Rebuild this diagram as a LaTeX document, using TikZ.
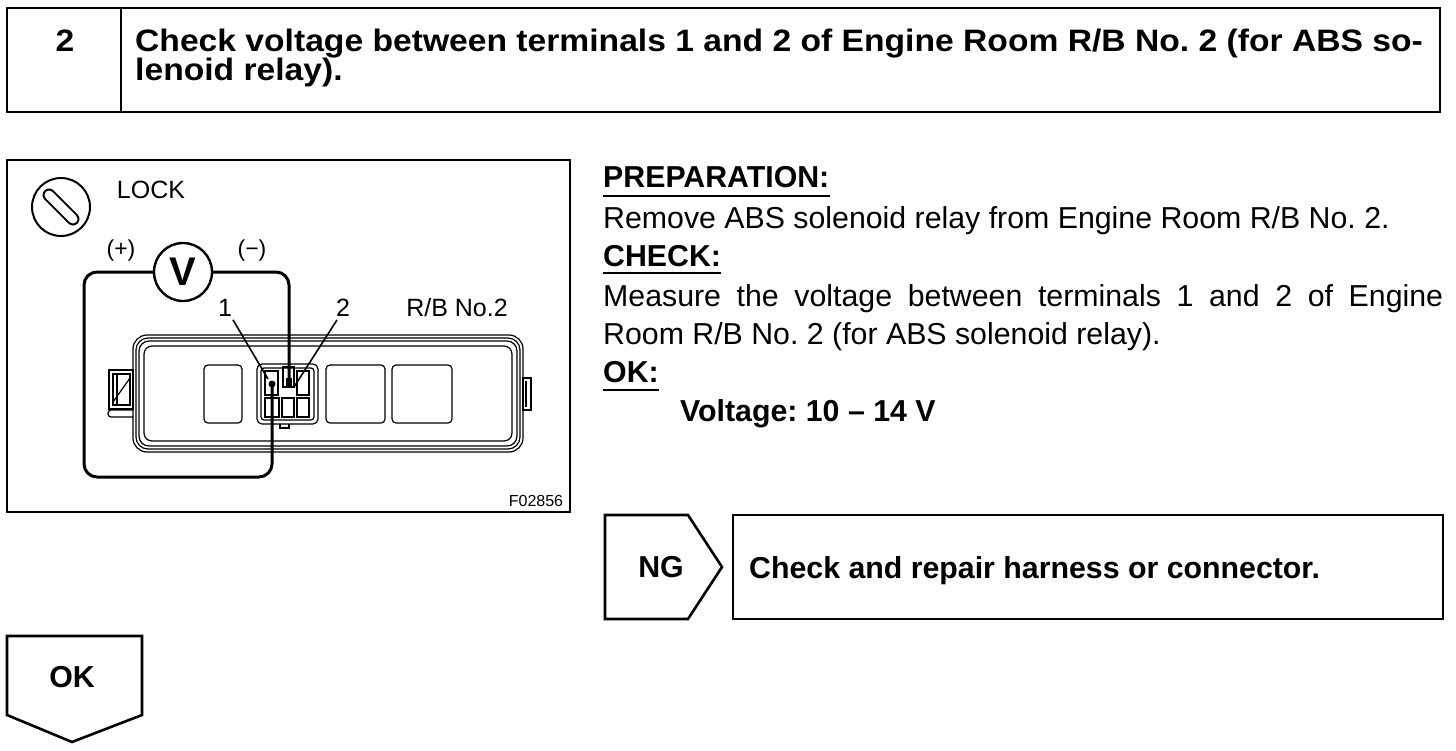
\documentclass[tikz,border=0pt]{standalone}
\usepackage{fontspec}
\usepackage{graphicx}
\setmainfont{Liberation Sans}
\frenchspacing
\begin{document}
\begin{tikzpicture}[x=1pt,y=-1pt,
  frame/.style={draw,line width=2.6pt},
  wire/.style={draw,line width=3pt,rounded corners=13pt},
  rb/.style={draw,line width=1.2pt},
  lead/.style={draw,line width=1.6pt},
  uline/.style={draw,line width=1.4pt},
  hbody/.style={inner sep=0pt,anchor=base west,font=\fontsize{31}{36}\selectfont\bfseries},
  body/.style={inner sep=0pt,anchor=base west,font=\fontsize{30.3}{36}\selectfont},
  bbody/.style={inner sep=0pt,anchor=base west,font=\fontsize{30.3}{36}\selectfont\bfseries},
  lbl/.style={inner sep=0pt,font=\fontsize{25}{30}\selectfont}]
\useasboundingbox (0,0) rectangle (1456,750);

% ---------- header ----------
\draw[frame] (7,8) rectangle (1440,112);
\draw[frame] (121,8) -- (121,112);
\node[hbody,anchor=base] (num) at (65,51) {\scalebox{1.085}[1]{2}};
\node[hbody] (h1) at (135,51) {\scalebox{1.085}[1]{Check voltage between terminals 1 and 2 of Engine Room R/B No. 2 (for ABS so-}};
\node[hbody] (h2) at (135,80) {\scalebox{1.085}[1]{lenoid relay).}};

% ---------- illustration frame ----------
\draw[line width=2pt] (7,160) rectangle (570,512);

% ignition lock symbol
\draw[line width=2pt] (61,207) circle[radius=29pt];
\draw[line width=13pt,line cap=round] (49,195) -- (73,219);
\draw[white,line width=9pt,line cap=round] (49,195) -- (73,219);
\node[lbl] (lock) at (151,190) {LOCK};

% relay block outline
\draw[rb,rounded corners=14pt] (133,335) rectangle (523,452);
\draw[rb,rounded corners=12pt] (136,338) rectangle (520,449);
\draw[rb,rounded corners=10pt] (139,341) rectangle (517,446);
\draw[rb,rounded corners=8pt] (144,346) rectangle (512,441);
% left tab
\draw[rb] (109,370) rectangle (133,409);
\draw[rb] (113,374) rectangle (130,405);
\draw[rb] (117,374) -- (117,405);
\draw[rb] (113,402) -- (130,378);
\draw[rb,rounded corners=3pt] (133,410) -- (108,410) -- (108,417) -- (133,417);
% right tab
\draw[rb] (523,378) rectangle (531,410);
\draw[rb] (526,381) -- (526,407);
% slots
\draw[rb,rounded corners=4pt] (204,365) rectangle (242,423);
\draw[rb,rounded corners=4pt] (326,365) rectangle (385,423);
\draw[rb,rounded corners=4pt] (392,365) rectangle (452,423);
% relay connector
\draw[rb,rounded corners=5pt] (257,364) rectangle (318,424);
\draw[rb,rounded corners=3pt] (261,368) rectangle (314,420);
\draw[rb] (280,424) -- (280,428) -- (289,428) -- (289,424);
\draw[rb] (265,371) rectangle (278,395);
\draw[rb] (283,367) rectangle (294,387);
\draw[rb] (297,371) rectangle (309,395);
\draw[rb] (265,398) rectangle (279,417);
\draw[rb] (282,398) rectangle (294,417);
\draw[rb] (297,398) rectangle (309,417);

% labels
\node[lbl] (n1) at (225,308) {1};
\node[lbl] (n2) at (343,308) {2};
\node[lbl] (rbl) at (457,308) {R/B No.2};
\node[inner sep=0pt,font=\fontsize{16}{18}\selectfont] (fig) at (536,501) {F02856};

% terminals
\coordinate (t1) at (272,384);
\coordinate (t2) at (289,381);
\coordinate (l1) at (268,379);
\coordinate (l2) at (294,387);

% leader lines
\draw[lead] ([shift={(8,3)}]n1.south) -- (l1);
\draw[lead] ([shift={(-6,3)}]n2.south) -- (l2);

% voltmeter
\node[draw,circle,line width=2.4pt,minimum size=58pt,inner sep=0pt,
      font=\fontsize{40}{40}\selectfont\bfseries] (vm) at (183,272) {V};
\node[lbl,font=\fontsize{23}{26}\selectfont] (plus) at (121,251) {(+)};
\node[lbl,font=\fontsize{23}{26}\selectfont] (minus) at (252,251) {(−)};

% wires
\draw[wire] (vm.west) -- (84,272) -- (84,477) -- (272,477) -- (t1);
\draw[wire] (vm.east) -- (289,272) -- (t2);
\fill (t1) circle[radius=3.5pt];
\fill (286,378) rectangle (292,386);

% ---------- text column ----------
\node[bbody] (prep) at (603,187) {PREPARATION:};
\draw[uline] ([yshift=-9pt]prep.base west) -- ([yshift=-9pt]prep.base east);
\node[body] (rem) at (603,228) {Remove ABS solenoid relay from Engine Room R/B No. 2.};
\node[bbody] (chk) at (603,266) {CHECK:};
\draw[uline] ([yshift=-7pt]chk.base west) -- ([yshift=-7pt]chk.base east);
\node[body] (meas1) at (603,306) {\hbox to 840pt{Measure the voltage between terminals 1 and 2 of Engine}};
\node[body] (meas2) at (603,344) {Room R/B No. 2 (for ABS solenoid relay).};
\node[bbody] (okl) at (603,382) {OK:};
\draw[uline] ([yshift=-8pt]okl.base west) -- ([yshift=-8pt]okl.base east);
\node[bbody] (volt) at (680,421) {Voltage: 10 – 14 V};

% ---------- NG branch ----------
\draw[frame] (605,515) -- (688,515) -- (722,567) -- (688,619) -- (605,619) -- cycle;
\node[bbody,anchor=center] (ng) at (661,567) {NG};
\draw[frame] (733,515) rectangle (1443,619);
\node[bbody] (ngtext) at (749,578) {Check and repair harness or connector.};

% ---------- OK branch ----------
\draw[frame] (7,636) -- (142,636) -- (142,715) -- (72,742) -- (7,715) -- cycle;
\node[bbody,anchor=center] (ok) at (72,677) {OK};
\end{tikzpicture}
\end{document}
